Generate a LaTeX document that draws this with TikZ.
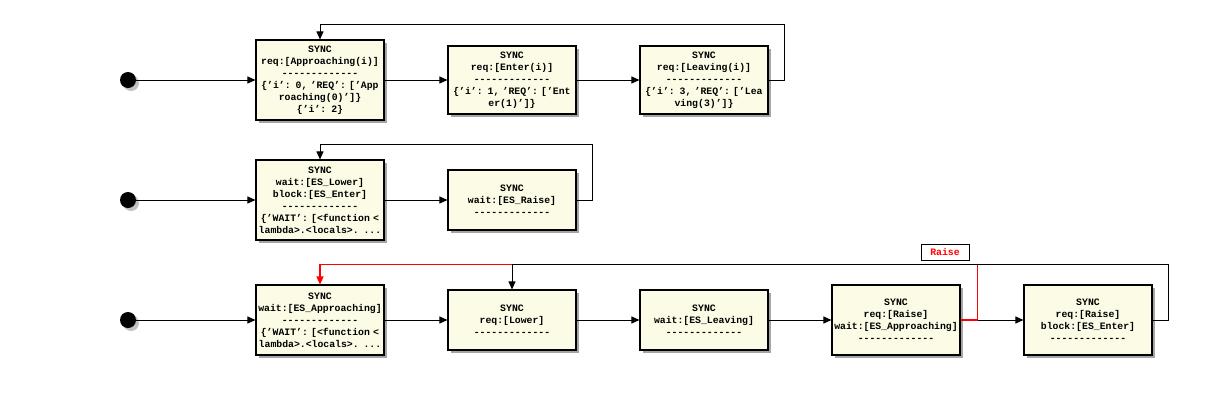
\documentclass[tikz,border=0pt]{standalone}
\usepackage{fontspec}
\setmonofont{Liberation Mono}
\usetikzlibrary{arrows.meta,shadows}
\definecolor{statefill}{RGB}{252,252,230}
\definecolor{edgered}{RGB}{255,0,0}

\begin{document}
\begin{tikzpicture}
[x=1pt, y=-1pt,
font=\ttfamily\bfseries\fontsize{9.8}{12}\selectfont,
state/.style={draw, line width=1.1pt, fill=statefill, text width=128pt, inner xsep=0pt, inner ysep=1pt,
  align=center, drop shadow={shadow xshift=3pt, shadow yshift=-3pt, opacity=0.5, fill=black!70}},
dot/.style={circle, fill=black, minimum size=16pt, inner sep=0pt,
  drop shadow={shadow xshift=3pt, shadow yshift=-3pt, opacity=0.35, fill=black!70}},
arr/.style={-{Triangle[length=8pt, width=7pt]}, line width=0.9pt},
redarr/.style={arr, edgered, line width=1.3pt},
tag/.style={draw, line width=0.9pt, fill=white, text=edgered, minimum width=48pt, minimum height=16pt, inner sep=1pt}]
\useasboundingbox (0,0) rectangle (1216,400);
% row 1
\node[dot] (s1) at (128,80) {};
\node[state, minimum height=80pt] (a1) at (320,80) {SYNC\\req:[Approaching(i)]\\-------------\\\{’i’: 0, ’REQ’: [’App\\roaching(0)’]\}\\\{’i’: 2\}};
\node[state, minimum height=68pt] (a2) at (512,80) {SYNC\\req:[Enter(i)]\\-------------\\\{’i’: 1, ’REQ’: [’Ent\\er(1)’]\}};
\node[state, minimum height=68pt] (a3) at (704,80) {SYNC\\req:[Leaving(i)]\\-------------\\\{’i’: 3, ’REQ’: [’Lea\\ving(3)’]\}};
\draw[arr] (s1) -- (a1);
\draw[arr] (a1) -- (a2);
\draw[arr] (a2) -- (a3);
\draw[arr] (a3.east) -- ++(16,0) |- ([yshift=15pt]a1.north) -- (a1.north);
% row 2
\node[dot] (s2) at (128,200) {};
\node[state, minimum height=80pt] (b1) at (320,200) {SYNC\\wait:[ES\_Lower]\\block:[ES\_Enter]\\-------------\\\{’WAIT’: [<function <\\lambda>.<locals>. ...};
\node[state, minimum height=60pt] (b2) at (512,200) {SYNC\\wait:[ES\_Raise]\\-------------};
\draw[arr] (s2) -- (b1);
\draw[arr] (b1) -- (b2);
\draw[arr] (b2.east) -- ++(16,0) |- ([yshift=15pt]b1.north) -- (b1.north);
% row 3
\node[dot] (s3) at (128,320) {};
\node[state, minimum height=70pt] (c1) at (320,320) {SYNC\\wait:[ES\_Approaching]\\-------------\\\{’WAIT’: [<function <\\lambda>.<locals>. ...};
\node[state, minimum height=60pt] (c2) at (512,320) {SYNC\\req:[Lower]\\-------------};
\node[state, minimum height=60pt] (c3) at (704,320) {SYNC\\wait:[ES\_Leaving]\\-------------};
\node[state, minimum height=70pt] (c4) at (896,320) {SYNC\\req:[Raise]\\wait:[ES\_Approaching]\\-------------};
\node[state, minimum height=70pt] (c5) at (1088,320) {SYNC\\req:[Raise]\\block:[ES\_Enter]\\-------------};
\draw[arr] (s3) -- (c1);
\draw[arr] (c1) -- (c2);
\draw[arr] (c2) -- (c3);
\draw[arr] (c3) -- (c4);
\draw[arr] (c4) -- (c5);
\draw[redarr] (c4.east) -- ++(17,0) |- ([yshift=20pt]c1.north) -- (c1.north);
\node[tag] (raise) at (945,252) {Raise};
\draw[arr] (c5.east) -- ++(16,0) |- ([yshift=25pt]c2.north) -- (c2.north);
\end{tikzpicture}
\end{document}
